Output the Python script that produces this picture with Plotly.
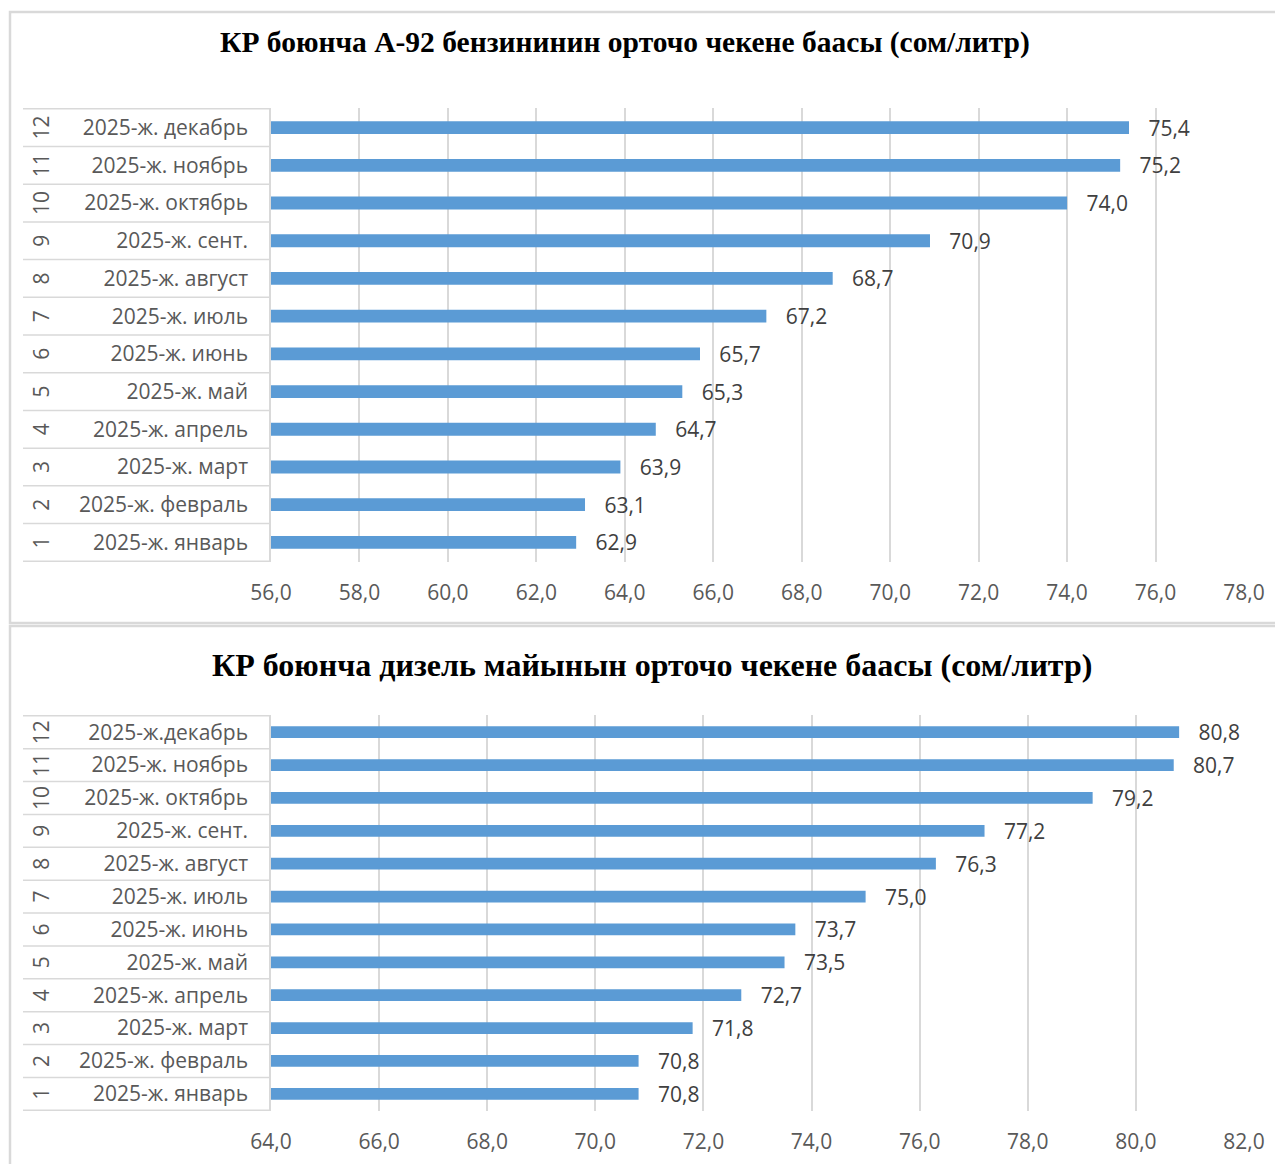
import plotly.graph_objects as go

# page body adds an 8px offset; figure coordinates are planned in page pixels
OFF = 8
W, H = 1275, 1156

months_a92 = ["2025-ж. январь", "2025-ж. февраль", "2025-ж. март", "2025-ж. апрель",
              "2025-ж. май", "2025-ж. июнь", "2025-ж. июль", "2025-ж. август",
              "2025-ж. сент.", "2025-ж. октябрь", "2025-ж. ноябрь", "2025-ж. декабрь"]
months_dt = ["2025-ж. январь", "2025-ж. февраль", "2025-ж. март", "2025-ж. апрель",
             "2025-ж. май", "2025-ж. июнь", "2025-ж. июль", "2025-ж. август",
             "2025-ж. сент.", "2025-ж. октябрь", "2025-ж. ноябрь", "2025-ж.декабрь"]
month_nums = ["1", "2", "3", "4", "5", "6", "7", "8", "9", "10", "11", "12"]

a92_values = [62.9, 63.1, 63.9, 64.7, 65.3, 65.7, 67.2, 68.7, 70.9, 74.0, 75.2, 75.4]
diesel_values = [70.8, 70.8, 71.8, 72.7, 73.5, 73.7, 75.0, 76.3, 77.2, 79.2, 80.7, 80.8]

title_a92 = "КР боюнча А-92 бензининин орточо чекене баасы (сом/литр)"
title_dt = "КР боюнча дизель майынын орточо чекене баасы (сом/литр)"

x_ticks_a92 = [56, 58, 60, 62, 64, 66, 68, 70, 72, 74, 76, 78]
x_ticks_dt = [64, 66, 68, 70, 72, 74, 76, 78, 80, 82]

BAR = "#5B9BD5"
GRID = "#D9D9D9"
TXT = "#595959"
LBL = "#404040"
FONT = "Open Sans"
FS = 21


def px(x):
    return (x - OFF) / W


def py(y):
    return 1 - (y - OFF) / H


fig = go.Figure()

fig.add_trace(go.Bar(
    x=a92_values, y=months_a92, orientation="h", marker_color=BAR, width=0.34,
    text=a92_values, texttemplate="\u00a0\u00a0\u00a0%{x:.1f}", textposition="outside",
    constraintext="none", cliponaxis=False,
    textfont=dict(family=FONT, size=FS, color=LBL),
    xaxis="x", yaxis="y", showlegend=False, hoverinfo="x+y"))

fig.add_trace(go.Bar(
    x=diesel_values, y=months_dt, orientation="h", marker_color=BAR, width=0.36,
    text=diesel_values, texttemplate="\u00a0\u00a0\u00a0%{x:.1f}", textposition="outside",
    constraintext="none", cliponaxis=False,
    textfont=dict(family=FONT, size=FS, color=LBL),
    xaxis="x2", yaxis="y2", showlegend=False, hoverinfo="x+y"))

xdom = [px(271), px(1244)]

xaxis_common = dict(showgrid=True, gridcolor=GRID, gridwidth=1.5, zeroline=False,
                    showline=False, tickfont=dict(family=FONT, size=FS, color=TXT),
                    ticks="outside", ticklen=12, tickcolor="rgba(0,0,0,0)",
                    tickformat=".1f", fixedrange=True, automargin=False)
yaxis_common = dict(type="category", categoryorder="array", showgrid=False, zeroline=False,
                    showline=True, linecolor=GRID, linewidth=1.5,
                    tickfont=dict(family=FONT, size=FS, color=TXT),
                    ticks="outside", ticklen=17, tickcolor="rgba(0,0,0,0)",
                    fixedrange=True, automargin=False)

fig.update_layout(
    template="none",
    width=W, height=H, margin=dict(l=0, r=0, t=0, b=0, autoexpand=False),
    paper_bgcolor="white", plot_bgcolor="white", separators=", ",
    showlegend=False,
    xaxis=dict(domain=xdom, range=[56, 78], tickvals=x_ticks_a92, anchor="y", **xaxis_common),
    yaxis=dict(domain=[py(562), py(108)], categoryarray=months_a92, anchor="x", **yaxis_common),
    xaxis2=dict(domain=xdom, range=[64, 82], tickvals=x_ticks_dt, anchor="y2", **xaxis_common),
    yaxis2=dict(domain=[py(1111), py(715)], categoryarray=months_dt, anchor="x2", **yaxis_common),
)

shapes = []
# panel borders
shapes.append(dict(type="rect", xref="paper", yref="paper", x0=px(10), x1=px(1300),
                   y0=py(623), y1=py(12), line=dict(color=GRID, width=2.5), layer="below"))
shapes.append(dict(type="rect", xref="paper", yref="paper", x0=px(10), x1=px(1300),
                   y0=py(1180), y1=py(626), line=dict(color=GRID, width=2.5), layer="below"))
# table row separators
for yref in ("y", "y2"):
    for i in range(13):
        shapes.append(dict(type="line", xref="paper", yref=yref, x0=px(23), x1=px(271),
                           y0=i - 0.5, y1=i - 0.5, line=dict(color=GRID, width=1.5)))

annotations = []
annotations.append(dict(text="<b>" + title_a92 + "</b>", xref="paper", yref="paper",
                        x=px(625), y=py(43), showarrow=False, xanchor="center", yanchor="middle",
                        font=dict(family="Liberation Serif", size=29.5, color="black")))
annotations.append(dict(text="<b>" + title_dt + "</b>", xref="paper", yref="paper",
                        x=px(652), y=py(665), showarrow=False, xanchor="center", yanchor="middle",
                        font=dict(family="Liberation Serif", size=32, color="black")))
for yref, cats in (("y", months_a92), ("y2", months_dt)):
    for num, cat in zip(month_nums, cats):
        annotations.append(dict(text=num, xref="paper", yref=yref, x=px(41), y=cat,
                                showarrow=False, textangle=-90, xanchor="center", yanchor="middle",
                                font=dict(family=FONT, size=FS, color=TXT)))

fig.update_layout(shapes=shapes, annotations=annotations)

fig.write_html("out.html")
